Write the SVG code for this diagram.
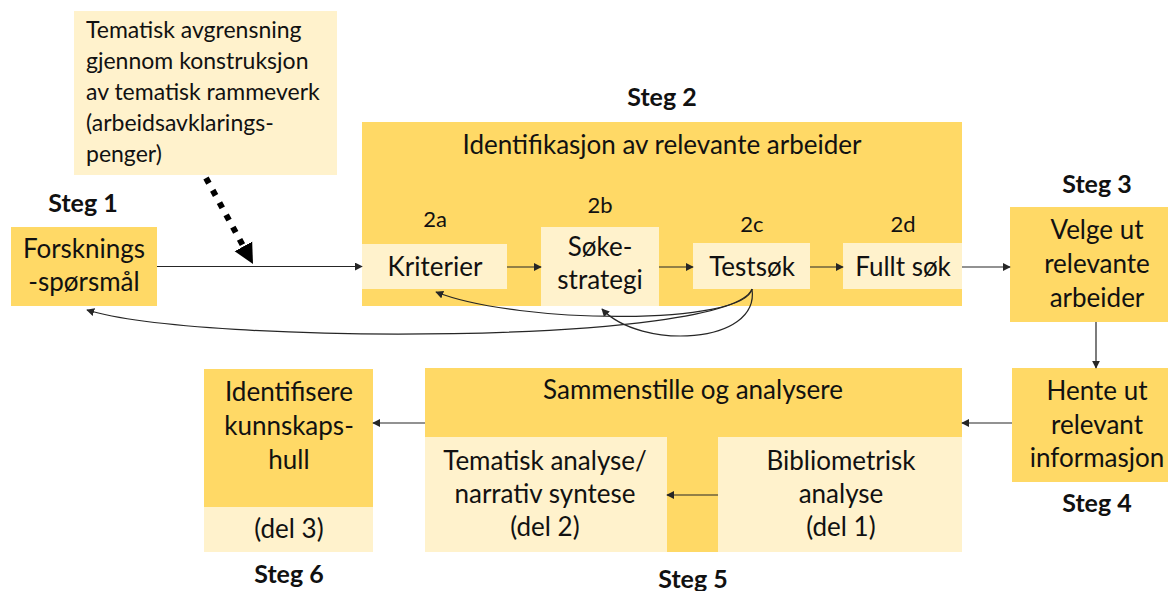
<svg xmlns="http://www.w3.org/2000/svg" width="1168" height="591" viewBox="0 0 1168 591">
<style>
.dk{fill:#FFD966}
.lt{fill:#FFF2CC}
text{font-family:Lato,"Open Sans","Liberation Sans",sans-serif;fill:#111}
.t{font-size:26px;text-anchor:middle}
.s{font-size:25px;font-weight:bold;text-anchor:middle}
.n{font-size:22px;text-anchor:middle}
.m{font-size:23px}
.c{fill:none;stroke:#262626;stroke-width:1.2}
</style>
<defs>
<marker id="ah" viewBox="0 0 10 10" refX="9" refY="5" markerWidth="8" markerHeight="8" markerUnits="userSpaceOnUse" orient="auto"><path d="M0,0 L10,5 L0,10 z" fill="#262626"/></marker>
<marker id="big" viewBox="0 0 10 10" refX="0" refY="5" markerWidth="20" markerHeight="21" markerUnits="userSpaceOnUse" orient="auto"><path d="M0,0 L10,5 L0,10 z" fill="#000"/></marker>
</defs>

<g id="tema">
<rect class="lt" x="74" y="11" width="263" height="164"/>
<text class="m" x="86" y="38">Tematisk avgrensning</text>
<text class="m" x="86" y="69">gjennom konstruksjon</text>
<text class="m" x="86" y="100">av tematisk rammeverk</text>
<text class="m" x="86" y="131">(arbeidsavklarings-</text>
<text class="m" x="86" y="162">penger)</text>
</g>

<g id="steg1">
<text class="s" x="83" y="212">Steg 1</text>
<rect class="dk" x="11" y="227" width="146" height="79"/>
<text class="t" x="84" y="258">Forsknings</text>
<text class="t" x="84" y="291">-spørsmål</text>
</g>

<g id="steg2">
<text class="s" x="662" y="106">Steg 2</text>
<rect class="dk" x="362" y="122" width="600" height="184"/>
<text class="t" x="662" y="154">Identifikasjon av relevante arbeider</text>
</g>
<g id="s2a">
<text class="n" x="435" y="227">2a</text>
<rect class="lt" x="362" y="244" width="145" height="45"/>
<text class="t" x="435" y="276">Kriterier</text>
</g>
<g id="s2b">
<text class="n" x="600" y="213">2b</text>
<rect class="lt" x="541" y="227" width="118" height="79"/>
<text class="t" x="600" y="256">Søke-</text>
<text class="t" x="600" y="289">strategi</text>
</g>
<g id="s2c">
<text class="n" x="752" y="232">2c</text>
<rect class="lt" x="693" y="243" width="117" height="46"/>
<text class="t" x="752" y="276">Testsøk</text>
</g>
<g id="s2d">
<text class="n" x="903" y="232">2d</text>
<rect class="lt" x="843" y="243" width="119" height="46"/>
<text class="t" x="903" y="276">Fullt søk</text>
</g>

<g id="steg3">
<text class="s" x="1097" y="193">Steg 3</text>
<rect class="dk" x="1010" y="207" width="158" height="115"/>
<text class="t" x="1097" y="239">Velge ut</text>
<text class="t" x="1097" y="273">relevante</text>
<text class="t" x="1097" y="307">arbeider</text>
</g>

<g id="steg4">
<rect class="dk" x="1012" y="368" width="156" height="114"/>
<text class="t" x="1097" y="400">Hente ut</text>
<text class="t" x="1097" y="434">relevant</text>
<text class="t" x="1097" y="467">informasjon</text>
<text class="s" x="1097" y="512">Steg 4</text>
</g>

<g id="steg5">
<rect class="dk" x="425" y="368" width="537" height="184"/>
<text class="t" x="693" y="399">Sammenstille og analysere</text>
<rect class="lt" x="425" y="437" width="242" height="115"/>
<text class="t" x="545" y="470">Tematisk analyse/</text>
<text class="t" x="545" y="503">narrativ syntese</text>
<text class="t" x="545" y="536">(del 2)</text>
<rect class="lt" x="718" y="437" width="244" height="115"/>
<text class="t" x="841" y="470">Bibliometrisk</text>
<text class="t" x="841" y="503">analyse</text>
<text class="t" x="841" y="536">(del 1)</text>
<text class="s" x="693" y="588">Steg 5</text>
</g>

<g id="steg6">
<rect class="dk" x="204" y="369" width="169" height="138"/>
<rect class="lt" x="204" y="507" width="169" height="45"/>
<text class="t" x="289" y="401">Identifisere</text>
<text class="t" x="289" y="435">kunnskaps-</text>
<text class="t" x="289" y="469">hull</text>
<text class="t" x="289" y="538">(del 3)</text>
<text class="s" x="289" y="583">Steg 6</text>
</g>

<g id="connectors">
<path d="M206,178 L243.4,246.4" fill="none" stroke="#000" stroke-width="6" stroke-dasharray="6 8" marker-end="url(#big)"/>
<path class="c" d="M157,266.5 L362,266.5" marker-end="url(#ah)"/>
<path class="c" d="M507,267 L541,267" marker-end="url(#ah)"/>
<path class="c" d="M659,267 L693,267" marker-end="url(#ah)"/>
<path class="c" d="M810,267 L843,267" marker-end="url(#ah)"/>
<path class="c" d="M962,267 L1010,267" marker-end="url(#ah)"/>
<path class="c" d="M1096,322 L1096,368" marker-end="url(#ah)"/>
<path class="c" d="M1012,423 L962,423" marker-end="url(#ah)"/>
<path class="c" d="M718,495 L667,495" marker-end="url(#ah)"/>
<path class="c" d="M425,423 L373,423" marker-end="url(#ah)"/>
<path class="c" d="M752,289 C730,345 200,345 87,310" marker-end="url(#ah)"/>
<path class="c" d="M752,289 C745,325 520,325 436,292" marker-end="url(#ah)"/>
<path class="c" d="M752,289 C760,345 640,350 602,309" marker-end="url(#ah)"/>
</g>
</svg>
